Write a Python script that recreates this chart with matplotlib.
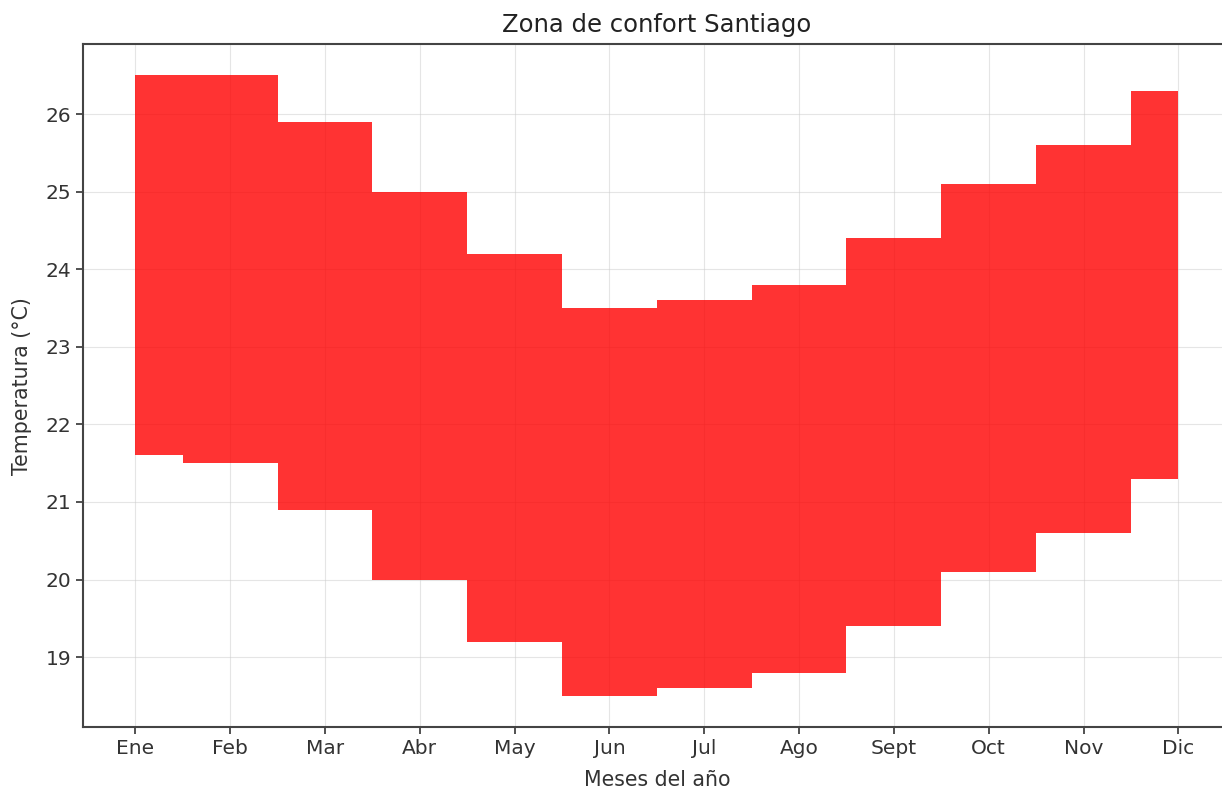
import numpy as np
from matplotlib import pyplot as plt

meses = ['Ene', 'Feb', 'Mar', 'Abr', 'May', 'Jun', 'Jul', 'Ago', 'Sept', 'Oct', 'Nov', 'Dic']
t_max = [26.5, 26.5, 25.9, 25.0, 24.2, 23.5, 23.6, 23.8, 24.4, 25.1, 25.6, 26.3]
t_min = [21.6, 21.5, 20.9, 20.0, 19.2, 18.5, 18.6, 18.8, 19.4, 20.1, 20.6, 21.3]

x = np.arange(len(meses))

fig = plt.figure(figsize=(12.22, 7.91), dpi=100)
# the original image is cropped on the right, so the axes run past the edge
ax = fig.add_axes([0.068, 0.081, 0.939, 0.863])

ax.fill_between(x, t_min, t_max, step='mid', color='red', alpha=0.8, linewidth=0)
ax.set_xticks(x)
ax.set_xticklabels(meses)
ax.grid(True, color='#cccccc', alpha=0.5)
ax.set_axisbelow(True)

for s in ax.spines.values():
    s.set_color('#444444')
    s.set_linewidth(1.5)
ax.spines['right'].set_visible(False)
ax.tick_params(colors='#333333', labelsize=14.5, length=5, width=1.2)

ax.set_title('Zona de confort Santiago', fontsize=17.5, color='#222222', pad=9)
ax.set_xlabel('Meses del año', fontsize=14.8, color='#333333', labelpad=9)
ax.set_ylabel('Temperatura (°C)', fontsize=14.8, color='#333333', labelpad=10)

fig.savefig('out.png', dpi=100)
